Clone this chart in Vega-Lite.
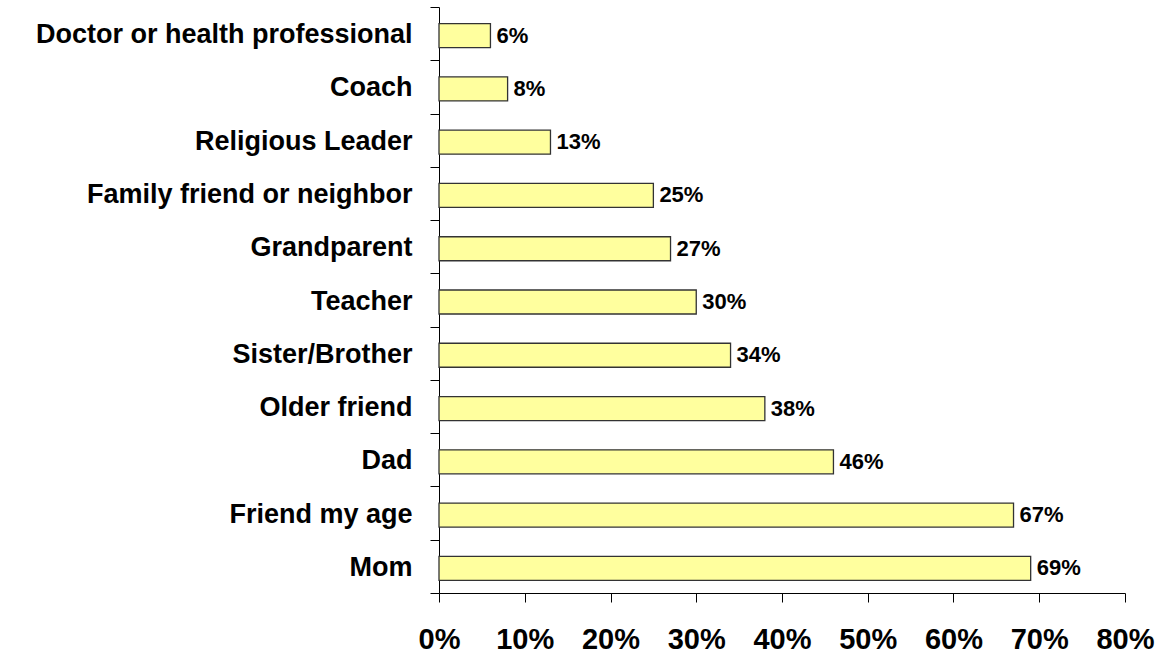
{
  "$schema": "https://vega.github.io/schema/vega-lite/v6.json",
  "width": 686,
  "height": 586,
  "autosize": {"type": "none"},
  "padding": {"left": 439, "top": 7, "right": 46, "bottom": 61},
  "background": "white",
  "config": {"view": {"stroke": null}, "font": "Liberation Sans"},
  "data": {
    "values": [
      {"source": "Doctor or health professional", "pct": 0.06},
      {"source": "Coach", "pct": 0.08},
      {"source": "Religious Leader", "pct": 0.13},
      {"source": "Family friend or neighbor", "pct": 0.25},
      {"source": "Grandparent", "pct": 0.27},
      {"source": "Teacher", "pct": 0.30},
      {"source": "Sister/Brother", "pct": 0.34},
      {"source": "Older friend", "pct": 0.38},
      {"source": "Dad", "pct": 0.46},
      {"source": "Friend my age", "pct": 0.67},
      {"source": "Mom", "pct": 0.69}
    ]
  },
  "encoding": {
    "y": {
      "field": "source",
      "type": "nominal",
      "sort": null,
      "scale": {"paddingInner": 0, "paddingOuter": 0},
      "axis": {
        "title": null,
        "domainColor": "black",
        "domainWidth": 1,
        "tickColor": "black",
        "tickWidth": 1,
        "tickSize": 9,
        "tickBand": "extent",
        "labelFont": "Liberation Sans",
        "labelFontSize": 27,
        "labelFontWeight": "bold",
        "labelColor": "black",
        "labelPadding": 18,
        "labelLimit": 1000,
        "labelOffset": 1
      }
    }
  },
  "layer": [
    {
      "mark": {"type": "bar", "height": 24, "yOffset": 2, "fill": "#FFFF9E", "stroke": "#333333", "strokeWidth": 1.3},
      "encoding": {
        "x": {
          "field": "pct",
          "type": "quantitative",
          "scale": {"domain": [0, 0.8]},
          "axis": {
            "title": null,
            "format": ".0%",
            "values": [0, 0.1, 0.2, 0.3, 0.4, 0.5, 0.6, 0.7, 0.8],
            "grid": false,
            "domainColor": "black",
            "domainWidth": 1,
            "tickColor": "black",
            "tickWidth": 1,
            "tickSize": 9,
            "labelFont": "Liberation Sans",
            "labelFontSize": 29,
            "labelFontWeight": "bold",
            "labelColor": "black",
            "labelBaseline": "alphabetic",
            "labelPadding": 46,
            "labelFlush": false,
            "labelOverlap": false
          }
        }
      }
    },
    {
      "mark": {"type": "text", "align": "left", "baseline": "middle", "dx": 6, "dy": 2, "fontSize": 22, "fontWeight": "bold", "color": "black", "font": "Liberation Sans"},
      "encoding": {
        "x": {"field": "pct", "type": "quantitative"},
        "text": {"field": "pct", "type": "quantitative", "format": ".0%"}
      }
    }
  ]
}
